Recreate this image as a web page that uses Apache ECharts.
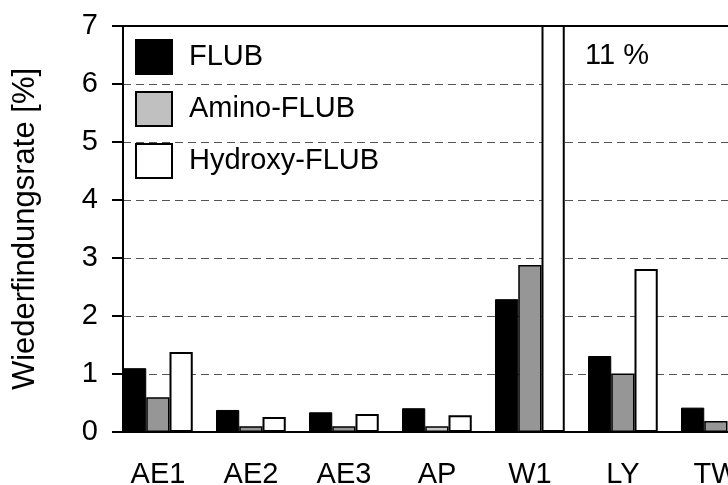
<!DOCTYPE html>
<html><head><meta charset="utf-8">
<script src="https://cdn.jsdelivr.net/npm/echarts@6/dist/echarts.min.js"></script>
<style>html,body{margin:0;padding:0;background:#fff}#c{width:728px;height:485px}</style>
</head><body><div id="c"></div>
<script>
var categories = ['AE1','AE2','AE3','AP','W1','LY','TW'];
var flub = [1.10, 0.38, 0.34, 0.41, 2.29, 1.31, 0.42];
var aminoFlub = [0.60, 0.10, 0.10, 0.10, 2.88, 1.01, 0.19];
var hydroxyFlub = [1.38, 0.26, 0.31, 0.29, 11, 2.81, '-'];
var yTicks = [0,1,2,3,4,5,6,7];
var note = '11 %';

var FONT = "'Liberation Sans', Arial, sans-serif";
var chart = echarts.init(document.getElementById('c'));
var aminoData = aminoFlub.map(function(v, i){
  return categories[i] === 'AP' ? {value: v, itemStyle: {color: '#c8c8c8'}} : v;
});
chart.setOption({
  animation: false,
  backgroundColor: '#fff',
  grid: {left: 123, top: 26, width: 651, height: 406, outerBoundsMode: 'none', containLabel: false},
  legend: {
    orient: 'vertical', left: 135, top: 39, padding: 0, itemWidth: 36, itemHeight: 34, itemGap: 16,
    icon: 'rect', selectedMode: false,
    textStyle: {fontSize: 29, fontFamily: FONT, color: '#000', padding: [0,0,0,12]},
    data: [
      {name: 'FLUB', itemStyle: {color: '#000', borderColor: '#000', borderWidth: 2}},
      {name: 'Amino-FLUB', itemStyle: {color: '#c0c0c0', borderColor: '#000', borderWidth: 2}},
      {name: 'Hydroxy-FLUB', itemStyle: {color: '#fff', borderColor: '#000', borderWidth: 2}}
    ]
  },
  xAxis: [{
    type: 'category', data: categories, boundaryGap: true,
    axisLine: {lineStyle: {color: '#000', width: 2}},
    axisTick: {show: false},
    axisLabel: {fontSize: 29, fontFamily: FONT, color: '#000', margin: 28, padding: [0,23,0,0], interval: 0}
  }, {
    type: 'category', data: categories, position: 'top',
    axisLine: {show: true, lineStyle: {color: '#000', width: 2}},
    axisTick: {show: false}, axisLabel: {show: false}, splitLine: {show: false}
  }],
  yAxis: {
    type: 'value', min: 0, max: 7, interval: 1,
    name: 'Wiederfindungsrate [%]', nameLocation: 'middle', nameGap: 82, nameRotate: 90,
    nameTextStyle: {fontSize: 31, fontFamily: FONT, color: '#000'},
    axisLine: {show: true, lineStyle: {color: '#000', width: 2}},
    axisTick: {show: true, length: 11, lineStyle: {color: '#000', width: 2}},
    axisLabel: {fontSize: 29, fontFamily: FONT, color: '#000', margin: 25,
      formatter: function(v){ return yTicks.indexOf(v) >= 0 ? String(v) : ''; }},
    splitLine: {show: true, lineStyle: {color: '#555', width: 1, type: [8,5]}}
  },
  series: [
    {name: 'FLUB', type: 'bar', data: flub, barGap: '0%', barCategoryGap: '0%',
      itemStyle: {color: '#000', borderColor: '#000', borderWidth: 1}},
    {name: 'Amino-FLUB', type: 'bar', data: aminoData,
      itemStyle: {color: '#969696', borderColor: '#000', borderWidth: 1.5}},
    {name: 'Hydroxy-FLUB', type: 'bar', data: hydroxyFlub,
      itemStyle: {color: '#fff', borderColor: '#000', borderWidth: 2}},
    {name: 'gap', type: 'bar', data: categories.map(function(){ return '-'; })}
  ],
  graphic: [{
    type: 'text', left: 585, top: 41,
    style: {text: note, fontSize: 29, fontFamily: FONT, fill: '#000'}
  }]
});
</script></body></html>
